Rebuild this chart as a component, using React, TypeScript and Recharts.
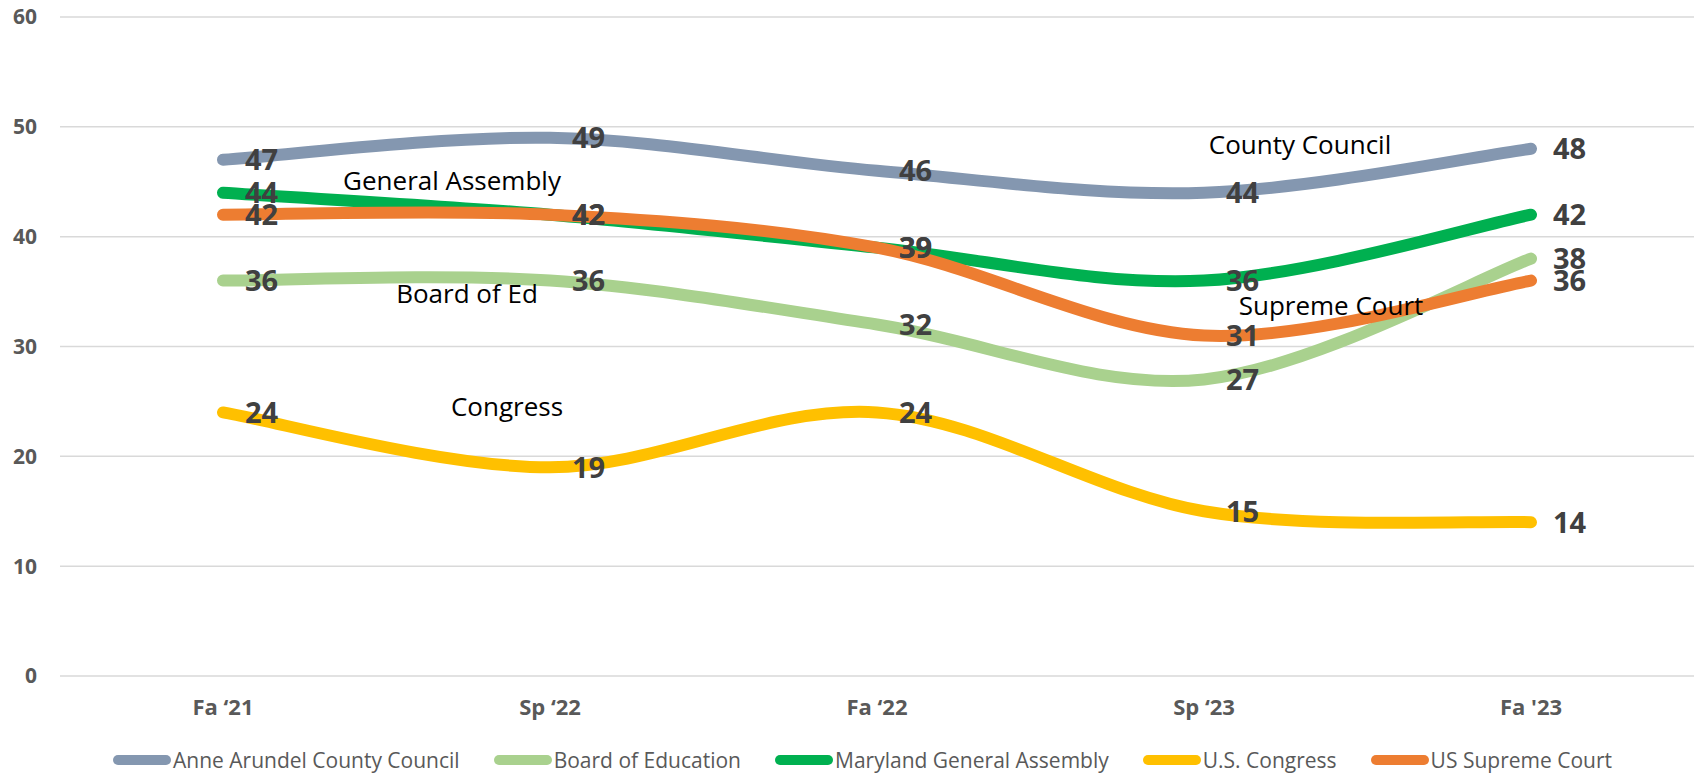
import React from "react";
import { LineChart, Line, XAxis, YAxis, CartesianGrid, LabelList, ReferenceDot } from "recharts";

const periods = ["Fa \u201821", "Sp \u201822", "Fa \u201822", "Sp \u201823", "Fa '23"];
const countyCouncil = [47, 49, 46, 44, 48];
const boardOfEducation = [36, 36, 32, 27, 38];
const generalAssembly = [44, 42, 39, 36, 42];
const usCongress = [24, 19, 24, 15, 14];
const supremeCourt = [42, 42, 39, 31, 36];
const yTicks = [0, 10, 20, 30, 40, 50, 60];

const seriesKeys = ["county", "board", "assembly", "congress", "court"];
const seriesNames = [
  "Anne Arundel County Council",
  "Board of Education",
  "Maryland General Assembly",
  "U.S. Congress",
  "US Supreme Court",
];
const seriesColors = ["#8497b0", "#a9d18e", "#00b050", "#ffc000", "#ed7d31"];
const seriesValues = [countyCouncil, boardOfEducation, generalAssembly, usCongress, supremeCourt];

// free-floating callouts, placed against a category and a value
const calloutText = ["General Assembly", "Board of Ed", "Congress", "County Council", "Supreme Court"];
const calloutPeriod = [periods[1], periods[1], periods[1], periods[3], periods[3]];
const calloutValue = [45.2, 34.9, 24.6, 48.4, 33.8];
const calloutShift = [-98, -83, -43, 96, 127];

const data = periods.map((period, i) => {
  const row: Record<string, string | number> = { period };
  seriesKeys.forEach((k, s) => (row[k] = seriesValues[s][i]));
  return row;
});

const FONT = "'Open Sans', sans-serif";

// Excel-like smoothed line (Catmull-Rom through the points)
const excelSmooth = (context: any) => {
  let px: number[] = [];
  let py: number[] = [];
  return {
    areaStart() {},
    areaEnd() {},
    lineStart() {
      px = [];
      py = [];
    },
    point(x: number, y: number) {
      px.push(+x);
      py.push(+y);
    },
    lineEnd() {
      const n = px.length;
      if (!n) return;
      context.moveTo(px[0], py[0]);
      for (let i = 0; i < n - 1; i++) {
        const a = Math.max(i - 1, 0);
        const d = Math.min(i + 2, n - 1);
        context.bezierCurveTo(
          px[i] + (px[i + 1] - px[a]) / 6,
          py[i] + (py[i + 1] - py[a]) / 6,
          px[i + 1] - (px[d] - px[i]) / 6,
          py[i + 1] - (py[d] - py[i]) / 6,
          px[i + 1],
          py[i + 1]
        );
      }
    },
  };
};

function Legend() {
  return (
    <div
      style={{
        position: "absolute",
        left: 31,
        width: 1663,
        top: 745,
        height: 30,
        display: "flex",
        justifyContent: "center",
        alignItems: "center",
        gap: 34,
        fontFamily: FONT,
        fontSize: 21,
        color: "#595959",
        whiteSpace: "nowrap",
      }}
    >
      {seriesNames.map((name, i) => (
        <div key={name} style={{ display: "flex", alignItems: "center" }}>
          <span
            style={{
              display: "inline-block",
              width: 58,
              height: 10,
              borderRadius: 5,
              background: seriesColors[i],
              marginRight: 2,
            }}
          />
          <span>{name}</span>
        </div>
      ))}
    </div>
  );
}

export default function App() {
  return (
    <div style={{ position: "relative", width: 1694, height: 780, background: "#fff" }}>
      <style>{"body{margin:0}"}</style>
      <LineChart width={1694} height={780} data={data} margin={{ top: 17, right: 0, bottom: 74, left: 0 }}>
        <CartesianGrid horizontal vertical={false} stroke="#d9d9d9" strokeWidth={1.5} />
        <XAxis
          dataKey="period"
          height={30}
          axisLine={false}
          tickLine={false}
          padding={{ left: 163, right: 163 }}
          tickMargin={17}
          tick={{ fill: "#595959", fontSize: 22, fontWeight: 700, fontFamily: FONT }}
        />
        <YAxis
          width={60}
          domain={[0, 60]}
          ticks={yTicks}
          axisLine={false}
          tickLine={false}
          tickMargin={17}
          tick={{ fill: "#595959", fontSize: 21, fontWeight: 700, fontFamily: FONT }}
        />
        {seriesKeys.map((k, i) => (
          <Line
            key={k}
            dataKey={k}
            name={seriesNames[i]}
            type={excelSmooth as any}
            stroke={seriesColors[i]}
            strokeWidth={12}
            strokeLinecap="round"
            dot={false}
            activeDot={false}
            isAnimationActive={false}
          />
        ))}
        {seriesKeys.map((k) => (
          <Line
            key={"lbl-" + k}
            dataKey={k}
            stroke="none"
            legendType="none"
            dot={false}
            activeDot={false}
            isAnimationActive={false}
          >
            <LabelList
              dataKey={k}
              position="right"
              offset={22}
              fill="#404040"
              fontSize={29}
              fontWeight={700}
              fontFamily={FONT}
            />
          </Line>
        ))}
        {calloutText.map((t, i) => (
          <ReferenceDot
            key={t}
            x={calloutPeriod[i]}
            y={calloutValue[i]}
            r={0}
            fill="none"
            stroke="none"
            label={{
              content: (p: any) => {
                const vb = p.viewBox || {};
                const cx = (vb.x ?? 0) + (vb.width ?? 0) / 2 + calloutShift[i];
                const cy = (vb.y ?? 0) + (vb.height ?? 0) / 2;
                return (
                  <text
                    x={cx}
                    y={cy}
                    textAnchor="middle"
                    dominantBaseline="central"
                    fontFamily={FONT}
                    fontSize={26}
                    fill="#000"
                  >
                    {t}
                  </text>
                );
              },
            }}
          />
        ))}
      </LineChart>
      <Legend />
    </div>
  );
}
